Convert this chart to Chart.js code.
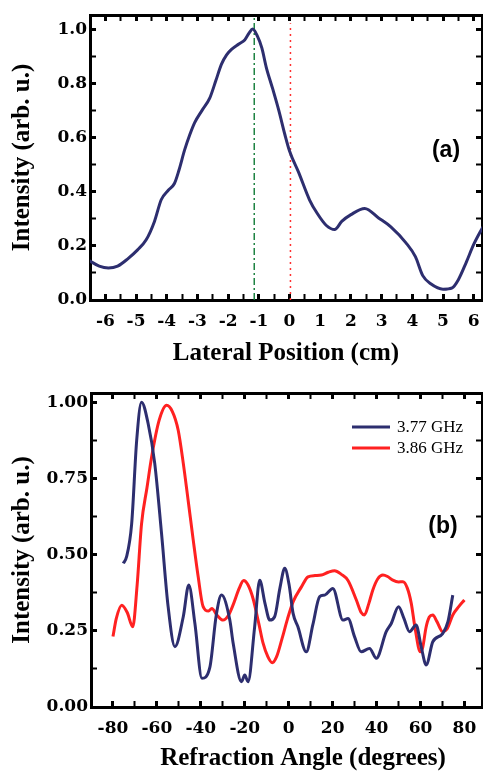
<!DOCTYPE html>
<html>
<head>
<meta charset="utf-8">
<script src="https://cdn.jsdelivr.net/npm/chart.js@4.4.1/dist/chart.umd.min.js"></script>
<style>
  html, body { margin: 0; padding: 0; background: #fff; }
  body { width: 483px; height: 771px; position: relative; overflow: hidden; }
  #c1 { position: absolute; left: 0; top: 0; }
  #c2 { position: absolute; left: 0; top: 375px; }
</style>
</head>
<body>
<canvas id="c1" width="483" height="372"></canvas>
<canvas id="c2" width="483" height="396"></canvas>
<script>
// ---------- Panel (a): Lateral position profile ----------
const posX = [-6.52,-6.2,-5.9,-5.6,-5.27,-4.95,-4.67,-4.4,-4.18,-3.95,-3.75,-3.6,-3.42,-3.25,-3.09,-2.85,-2.6,-2.4,-2.22,-2.05,-1.89,-1.65,-1.46,-1.32,-1.2,-1.05,-0.9,-0.76,-0.55,-0.35,-0.15,0.0,0.3,0.65,0.9,1.2,1.47,1.7,2.0,2.45,2.9,3.3,3.8,4.1,4.34,4.6,5.0,5.3,5.5,5.76,6.0,6.3];
const posI = [0.145,0.125,0.118,0.125,0.152,0.185,0.222,0.29,0.37,0.405,0.43,0.48,0.553,0.61,0.655,0.70,0.745,0.81,0.87,0.905,0.925,0.945,0.96,0.985,1.0,0.975,0.93,0.86,0.78,0.70,0.61,0.55,0.47,0.37,0.32,0.275,0.26,0.29,0.315,0.338,0.303,0.27,0.21,0.16,0.09,0.06,0.04,0.045,0.075,0.14,0.205,0.27];
const peakLineX = -1.15;   // green dash-dot marker
const zeroLineX = 0.03;    // red dotted marker

// ---------- Panel (b): Refraction angle profiles ----------
const seriesLabels = ['3.77 GHz', '3.86 GHz'];
const angA = [-75.3,-73.8,-71.5,-69.2,-67.0,-64.0,-61.0,-57.9,-54.9,-51.8,-48.0,-45.5,-42.7,-39.5,-35.9,-33.0,-30.6,-26.8,-25.3,-21.5,-20.0,-18.5,-15.5,-13.2,-10.8,-8.6,-6.4,-4.0,-1.8,0.2,2.0,4.2,8.0,11.0,14.1,16.4,20.1,24.7,27.0,30.0,33.0,36.8,39.9,44.4,46.7,50.0,52.5,55.0,58.0,60.3,62.6,65.6,70.1,72.5,74.7];
const intA = [0.471,0.493,0.60,0.875,1.0,0.93,0.80,0.57,0.33,0.198,0.296,0.40,0.274,0.094,0.13,0.30,0.367,0.285,0.21,0.083,0.105,0.083,0.263,0.416,0.34,0.285,0.296,0.39,0.455,0.40,0.307,0.263,0.181,0.27,0.362,0.367,0.389,0.285,0.29,0.23,0.181,0.192,0.16,0.247,0.274,0.329,0.29,0.247,0.269,0.198,0.138,0.214,0.241,0.28,0.367];
const angB = [-80.0,-78.5,-76.0,-73.5,-71.0,-69.0,-67.0,-64.5,-62.4,-59.0,-55.6,-53.0,-50.3,-48.0,-45.8,-43.5,-41.2,-39.0,-36.5,-35.0,-32.5,-29.9,-27.5,-25.3,-22.5,-20.5,-18.5,-16.2,-13.5,-11.7,-9.5,-7.5,-5.5,-3.0,-0.5,2.0,5.8,8.8,12.0,14.9,18.0,20.9,24.0,27.0,30.8,33.0,34.5,36.5,38.3,40.5,42.9,45.0,47.4,50.0,52.0,54.0,55.8,57.5,59.9,61.0,62.5,64.0,65.6,67.5,70.1,72.0,74.7,77.5,80.0];
const intB = [0.231,0.29,0.334,0.31,0.263,0.40,0.60,0.72,0.82,0.94,0.99,0.97,0.908,0.80,0.679,0.55,0.427,0.33,0.315,0.323,0.30,0.285,0.30,0.335,0.39,0.415,0.40,0.355,0.27,0.21,0.165,0.145,0.165,0.225,0.29,0.345,0.394,0.427,0.431,0.433,0.442,0.447,0.435,0.415,0.351,0.31,0.302,0.34,0.384,0.42,0.433,0.428,0.416,0.41,0.411,0.39,0.34,0.26,0.181,0.195,0.26,0.295,0.302,0.28,0.247,0.255,0.302,0.33,0.351];

const NAVY = '#2d2e6f';
const RED = '#ff2121';
const SERIF = "'Liberation Serif', 'Times New Roman', serif";
const TICKFONT = "'DejaVu Serif', 'Liberation Serif', serif";
const SANS = "'Liberation Sans', Arial, sans-serif";
const zip = (xs, ys) => xs.map((x, i) => ({ x: x, y: ys[i] }));
const near = (v, step) => Math.abs(v / step - Math.round(v / step)) < 1e-6;

function sized(w, h) {
  return (s) => {
    if (w !== null) s.width = w;
    if (h !== null) s.height = h;
    s.paddingLeft = 0; s.paddingRight = 0; s.paddingTop = 0; s.paddingBottom = 0;
  };
}

function frameAxis(pos, min, max, step, majorStep) {
  const horizontal = (pos === 'top' || pos === 'bottom');
  return {
    type: 'linear',
    position: pos,
    min: min, max: max,
    border: { display: true, width: 3, color: '#000' },
    grid: {
      display: true, drawOnChartArea: false, drawTicks: true,
      tickLength: -6, color: '#000',
      tickWidth: (c) => (c.tick && near(c.tick.value, majorStep)) ? 3 : 2
    },
    ticks: { display: false, stepSize: step, includeBounds: false, autoSkip: false, maxRotation: 0, minRotation: 0 },
    afterFit: horizontal ? sized(null, 0) : sized(0, null)
  };
}

function textPlugin(items) {
  return {
    id: 'panelText',
    afterDraw(chart) {
      const ctx = chart.ctx;
      ctx.save();
      items.forEach(t => {
        ctx.font = t.font;
        ctx.fillStyle = '#000';
        ctx.textAlign = 'center';
        ctx.textBaseline = 'middle';
        ctx.fillText(t.text, t.x, t.y);
      });
      ctx.restore();
    }
  };
}

// ---- Chart (a)
new Chart(document.getElementById('c1'), {
  type: 'line',
  data: {
    datasets: [
      { data: zip(posX, posI), borderColor: NAVY, borderWidth: 3, pointRadius: 0, cubicInterpolationMode: 'monotone', fill: false },
      { data: zip([peakLineX, peakLineX], [0, 1.06]), borderColor: '#0f7a35', borderWidth: 1.4, borderDash: [7, 3, 2, 3], pointRadius: 0, fill: false },
      { data: zip([zeroLineX, zeroLineX], [0, 1.022]), borderColor: '#ff3030', borderWidth: 1.5, borderDash: [2, 4], pointRadius: 0, fill: false }
    ]
  },
  options: {
    responsive: false, animation: false,
    layout: { padding: { top: 15, left: 0, right: 1, bottom: 0 } },
    plugins: { legend: { display: false }, tooltip: { enabled: false } },
    scales: {
      x: {
        type: 'linear', position: 'bottom', min: -6.5, max: 6.27,
        border: { display: true, width: 3, color: '#000' },
        grid: { display: true, drawOnChartArea: false, drawTicks: true, tickLength: -6, color: '#000',
                tickWidth: (c) => (c.tick && near(c.tick.value, 1)) ? 3 : 2 },
        ticks: {
          stepSize: 0.5, includeBounds: false, autoSkip: false, maxRotation: 0, minRotation: 0, padding: 19, color: '#000',
          font: { family: TICKFONT, weight: 'bold', size: 17, lineHeight: 1 },
          callback: (v) => near(v, 1) ? String(Math.round(v)) : ''
        },
        title: { display: true, text: 'Lateral Position (cm)', color: '#000',
                 font: { family: SERIF, weight: 'bold', size: 25, lineHeight: 1 }, padding: { top: 0, bottom: 6 } },
        afterFit: sized(null, 72)
      },
      y: {
        type: 'linear', position: 'left', min: 0, max: 1.052,
        border: { display: true, width: 3, color: '#000' },
        grid: { display: true, drawOnChartArea: false, drawTicks: true, tickLength: -6, color: '#000',
                tickWidth: (c) => (c.tick && near(c.tick.value, 0.2)) ? 3 : 2 },
        ticks: {
          stepSize: 0.1, includeBounds: false, autoSkip: false, padding: 9, color: '#000',
          font: { family: TICKFONT, weight: 'bold', size: 17, lineHeight: 1 },
          callback: (v) => near(v, 0.2) ? v.toFixed(1) : ''
        },
        title: { display: true, text: 'Intensity (arb. u.)', color: '#000',
                 font: { family: SERIF, weight: 'bold', size: 25, lineHeight: 1 }, padding: { top: 10, bottom: 0 } },
        afterFit: sized(90, null)
      },
      x2: frameAxis('top', -6.5, 6.27, 0.5, 1),
      y2: frameAxis('right', 0, 1.052, 0.1, 0.2)
    }
  },
  plugins: [textPlugin([{ text: '(a)', x: 446, y: 151, font: "bold 23px " + SANS }])]
});

// ---- Chart (b)
const legendPlugin = {
  id: 'insetLegend',
  afterDraw(chart) {
    const ctx = chart.ctx;
    ctx.save();
    chart.data.datasets.forEach((ds, i) => {
      const y = 52 + i * 21;
      ctx.strokeStyle = ds.borderColor;
      ctx.lineWidth = 3;
      ctx.beginPath();
      ctx.moveTo(352, y);
      ctx.lineTo(390, y);
      ctx.stroke();
      ctx.fillStyle = '#000';
      ctx.font = "17px " + SERIF;
      ctx.textAlign = 'left';
      ctx.textBaseline = 'middle';
      ctx.fillText(ds.label, 397, y + 1);
    });
    ctx.restore();
  }
};

new Chart(document.getElementById('c2'), {
  type: 'line',
  data: {
    datasets: [
      { label: seriesLabels[0], data: zip(angA, intA), borderColor: NAVY, borderWidth: 3, pointRadius: 0, cubicInterpolationMode: 'monotone', fill: false },
      { label: seriesLabels[1], data: zip(angB, intB), borderColor: RED, borderWidth: 3, pointRadius: 0, cubicInterpolationMode: 'monotone', fill: false }
    ]
  },
  options: {
    responsive: false, animation: false,
    layout: { padding: { top: 18, left: 0, right: 1, bottom: 0 } },
    plugins: { legend: { display: false }, tooltip: { enabled: false } },
    scales: {
      x: {
        type: 'linear', position: 'bottom', min: -90, max: 88,
        border: { display: true, width: 3, color: '#000' },
        grid: { display: true, drawOnChartArea: false, drawTicks: true, tickLength: -6, color: '#000',
                tickWidth: (c) => (c.tick && near(c.tick.value, 20)) ? 3 : 2 },
        ticks: {
          stepSize: 10, includeBounds: false, autoSkip: false, maxRotation: 0, minRotation: 0, padding: 19, color: '#000',
          font: { family: TICKFONT, weight: 'bold', size: 17, lineHeight: 1 },
          callback: (v) => (near(v, 20) && Math.abs(v) <= 80) ? String(Math.round(v)) : ''
        },
        title: { display: false, text: 'Refraction Angle (degrees)' },
        afterFit: sized(null, 64)
      },
      y: {
        type: 'linear', position: 'left', min: 0, max: 1.03,
        border: { display: true, width: 3, color: '#000' },
        grid: { display: true, drawOnChartArea: false, drawTicks: true, tickLength: -6, color: '#000',
                tickWidth: (c) => (c.tick && near(c.tick.value, 0.25)) ? 3 : 2 },
        ticks: {
          stepSize: 0.125, includeBounds: false, autoSkip: false, padding: 9, color: '#000',
          font: { family: TICKFONT, weight: 'bold', size: 17, lineHeight: 1 },
          callback: (v) => near(v, 0.25) ? v.toFixed(2) : ''
        },
        title: { display: true, text: 'Intensity (arb. u.)', color: '#000',
                 font: { family: SERIF, weight: 'bold', size: 25, lineHeight: 1 }, padding: { top: 10, bottom: 0 } },
        afterFit: sized(91, null)
      },
      x2: frameAxis('top', -90, 88, 10, 20),
      y2: frameAxis('right', 0, 1.03, 0.125, 0.25)
    }
  },
  plugins: [legendPlugin, textPlugin([
    { text: '(b)', x: 443, y: 152, font: "bold 23px " + SANS },
    { text: 'Refraction Angle (degrees)', x: 303, y: 384, font: "bold 25px " + SERIF }
  ])]
});
</script>
</body>
</html>
